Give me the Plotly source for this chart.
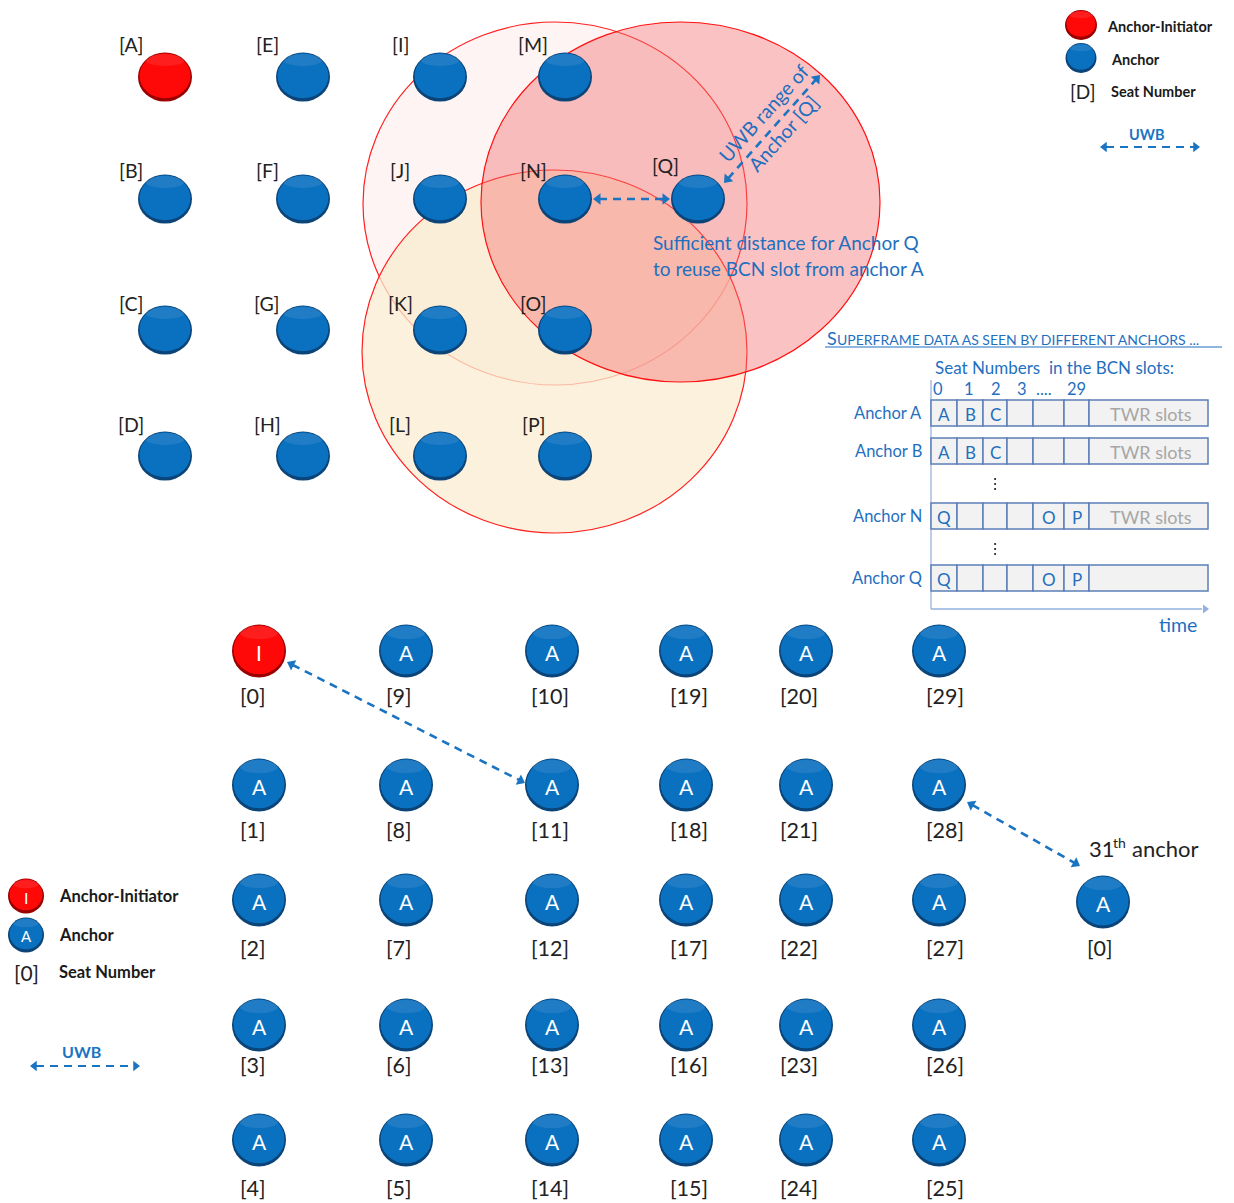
import math
import plotly.graph_objects as go

# ---------------- data ----------------
TOP_COLUMNS = [["A", "B", "C", "D"], ["E", "F", "G", "H"], ["I", "J", "K", "L"], ["M", "N", "O", "P"]]
TOP_EXTRA = ["Q"]          # extra anchor, right of N
TOP_INITIATOR = "A"

BOTTOM_COLUMNS = [[0, 1, 2, 3, 4], [9, 8, 7, 6, 5], [10, 11, 12, 13, 14],
                  [19, 18, 17, 16, 15], [20, 21, 22, 23, 24], [29, 28, 27, 26, 25]]
BOTTOM_INITIATOR = 0
EXTRA_ANCHOR_SEAT = 0

SF_ANCHORS = ["Anchor A", "Anchor B", "Anchor N", "Anchor Q"]
SF_SLOTS = [["A", "B", "C", "", "", ""],
            ["A", "B", "C", "", "", ""],
            ["Q", "", "", "", "O", "P"],
            ["Q", "", "", "", "O", "P"]]
SF_TWR = ["TWR slots", "TWR slots", "TWR slots", ""]
SF_HEADER = ["0", "1", "2", "3", "....", "29"]

# ---------------- layout geometry ----------------
W, H = 1234, 1203
TOP_X = [165, 303, 440, 565, 698]
TOP_Y = [77, 199, 330, 456]
TOP_LABEL_X = [131, 267, 400, 533, 665]
TOP_LABEL_Y = [44, 170, 303, 424]
TOP_RX, TOP_RY = 27, 24.5

BOT_X = [259, 406, 552, 686, 806, 939]
BOT_Y = [651, 785, 900, 1025, 1140]
BOT_LABEL_X = [253, 399, 550, 689, 799, 945]
BOT_LABEL_Y = [696, 830, 948, 1065, 1188]
BOT_R = 27
EXTRA_POS = (1103, 902)
EXTRA_LABEL = (1100, 948)

SF_X = [931, 957, 983, 1007, 1033, 1064, 1089, 1208]
SF_ROW_TOP = [400, 438, 503, 565]
SF_ROW_H = 26
SF_HEADER_X = [938, 969, 996, 1022, 1044, 1076]

FONT = "Lato"
BLUE_TXT = "#1F6FBF"
ARROW_BLUE = "#1B74C2"
NODE_BLUE, NODE_BLUE_DARK = "#0A71C0", "#0B4478"
NODE_RED, NODE_RED_DARK = "#FF0808", "#9A0000"

shapes = []
annotations = []
heads_x, heads_y, heads_ang, heads_col, heads_size = [], [], [], [], []


def text(x, y, s, size=18, color="#222222", bold=False, xanchor="center", angle=0, family=FONT):
    if bold:
        s = "<b>" + s + "</b>"
    annotations.append(dict(x=x, y=y, xref="x", yref="y", text=s, showarrow=False,
                            xanchor=xanchor, yanchor="middle", textangle=angle,
                            font=dict(family=family, size=size, color=color)))


def ellipse(x0, y0, x1, y1, fill, line_color=None, width=0, layer="above", opacity=1.0):
    shapes.append(dict(type="circle", xref="x", yref="y", x0=x0, y0=y0, x1=x1, y1=y1,
                       fillcolor=fill, opacity=opacity, layer=layer,
                       line=dict(color=line_color or fill, width=width)))


def node(cx, cy, rx, ry, red=False):
    main = NODE_RED if red else NODE_BLUE
    dark = NODE_RED_DARK if red else NODE_BLUE_DARK
    ellipse(cx - rx, cy - ry, cx + rx, cy + ry, dark)
    ellipse(cx - rx + 1.5, cy - ry + 0.8, cx + rx - 1.5, cy + ry - 3.2, main)
    ellipse(cx - rx * 0.72, cy - ry + 1.5, cx + rx * 0.72, cy - ry * 0.45, "white", opacity=0.09)


def head(tx, ty, dx, dy, color, size=10):
    # triangle-up marker: tip lies size/2 from its centre
    r = size / 2.0
    heads_x.append(tx - dx * r)
    heads_y.append(ty - dy * r)
    heads_ang.append(math.degrees(math.atan2(dx, -dy)))
    heads_col.append(color)
    heads_size.append(size)


def dashed_arrow(x0, y0, x1, y1, both=True, color=ARROW_BLUE, width=2.6, size=10):
    L = math.hypot(x1 - x0, y1 - y0)
    ux, uy = (x1 - x0) / L, (y1 - y0) / L
    hl = 6
    sx, sy = (x0 + ux * hl, y0 + uy * hl) if both else (x0, y0)
    ex, ey = x1 - ux * hl, y1 - uy * hl
    shapes.append(dict(type="line", xref="x", yref="y", x0=sx, y0=sy, x1=ex, y1=ey,
                       line=dict(color=color, width=width, dash="8px,6px")))
    head(x1, y1, ux, uy, color, size)
    if both:
        head(x0, y0, -ux, -uy, color, size)


# ---------------- range circles ----------------
ellipse(363, 22, 747, 385, "rgba(252,230,230,0.45)", "#FF2020", 1.2, layer="below")
ellipse(362, 170, 747, 533, "rgba(249,236,208,0.75)", "#FF2020", 1.2, layer="below")
ellipse(481, 22, 880, 382, "rgba(244,110,110,0.42)", "#FF1010", 1.2, layer="below")

# ---------------- top grid ----------------
for ci, col in enumerate(TOP_COLUMNS):
    for ri, seat in enumerate(col):
        cx, cy = TOP_X[ci], TOP_Y[ri]
        node(cx, cy, TOP_RX, TOP_RY, red=(seat == TOP_INITIATOR))
        text(TOP_LABEL_X[ci], TOP_LABEL_Y[ri], "[" + seat + "]", size=19.5)
for seat in TOP_EXTRA:
    cx, cy = TOP_X[4], TOP_Y[1]
    node(cx, cy, TOP_RX, TOP_RY)
    text(TOP_LABEL_X[4], 165, "[" + seat + "]", size=19.5)

# N <-> Q arrow
dashed_arrow(TOP_X[3] + TOP_RX + 1, TOP_Y[1], TOP_X[4] - TOP_RX - 1, TOP_Y[1])
# UWB range of anchor Q
dashed_arrow(724, 183, 820, 75)
text(763, 113, "UWB range of", size=19.5, color=BLUE_TXT, angle=-48)
text(783, 133, "Anchor [Q]", size=19.5, color=BLUE_TXT, angle=-48)
text(651, 242, "Sufficient distance for Anchor Q", size=19, color=BLUE_TXT, xanchor="left")
text(651, 268, "to reuse BCN slot from anchor A", size=19, color=BLUE_TXT, xanchor="left")

# ---------------- top-right legend ----------------
node(1081, 25, 16, 15, red=True)
node(1081, 58, 15.5, 15)
text(1105, 26, "Anchor-Initiator", size=14.5, bold=True, xanchor="left", color="#1a1a1a")
text(1109, 59, "Anchor", size=14.5, bold=True, xanchor="left", color="#1a1a1a")
text(1083, 91, "[D]", size=19)
text(1109, 91, "Seat Number", size=14.5, bold=True, xanchor="left", color="#1a1a1a")
text(1147, 134, "UWB", size=14.5, bold=True, color=ARROW_BLUE)
dashed_arrow(1100, 147, 1200, 147, width=2.2, size=9)

# ---------------- superframe table ----------------
text(825, 338, "S", size=18, color=BLUE_TXT, xanchor="left")
text(835, 339.5, "UPERFRAME DATA AS SEEN BY DIFFERENT ANCHORS ...", size=14, color=BLUE_TXT,
     xanchor="left")
shapes.append(dict(type="line", xref="x", yref="y", x0=825, x1=1222, y0=347, y1=347,
                   line=dict(color=BLUE_TXT, width=1)))
text(933, 367, "Seat Numbers  in the BCN slots:", size=17, color=BLUE_TXT, xanchor="left")
for hx, h in zip(SF_HEADER_X, SF_HEADER):
    text(hx, 389, h, size=16.5, color=BLUE_TXT)

# axis lines
shapes.append(dict(type="line", xref="x", yref="y", x0=931, x1=931, y0=380, y1=609,
                   line=dict(color="#A9BEDF", width=1.5)))
shapes.append(dict(type="line", xref="x", yref="y", x0=931, x1=1202, y0=609, y1=609,
                   line=dict(color="#8FB0E0", width=1.5)))
head(1209, 609, 1, 0, "#8FB0E0", 8)
text(1178, 624, "time", size=19.5, color=BLUE_TXT)

for ri, (name, slots, twr) in enumerate(zip(SF_ANCHORS, SF_SLOTS, SF_TWR)):
    y0 = SF_ROW_TOP[ri]
    y1 = y0 + SF_ROW_H
    yc = (y0 + y1) / 2
    text(924, yc, name, size=16.5, color=BLUE_TXT, xanchor="right")
    for k in range(len(SF_X) - 1):
        shapes.append(dict(type="rect", xref="x", yref="y", x0=SF_X[k], x1=SF_X[k + 1], y0=y0, y1=y1,
                           fillcolor="#F2F2F2", line=dict(color="#5B7FB8", width=1.5)))
    for k, s in enumerate(slots):
        if s:
            text((SF_X[k] + SF_X[k + 1]) / 2, yc + 1, s, size=17, color=BLUE_TXT)
    if twr:
        text((SF_X[6] + SF_X[7]) / 2 + 2, yc + 1, twr, size=18, color="#A6A6A6")

for dy in (484, 549):
    for d in (-5, 0, 5):
        ellipse(994, dy + d - 1.1, 996.2, dy + d + 1.1, "#222222")

# ---------------- bottom grid ----------------
for ci, col in enumerate(BOTTOM_COLUMNS):
    for ri, seat in enumerate(col):
        cx, cy = BOT_X[ci], BOT_Y[ri]
        is_init = seat == BOTTOM_INITIATOR
        node(cx, cy, BOT_R, BOT_R - 0.5, red=is_init)
        text(cx, cy + 1, "I" if is_init else "A", size=21, color="white")
        text(BOT_LABEL_X[ci], BOT_LABEL_Y[ri], "[" + str(seat) + "]", size=21.5)

node(EXTRA_POS[0], EXTRA_POS[1], BOT_R, BOT_R - 0.5)
text(EXTRA_POS[0], EXTRA_POS[1] + 1, "A", size=21, color="white")
text(EXTRA_LABEL[0], EXTRA_LABEL[1], "[" + str(EXTRA_ANCHOR_SEAT) + "]", size=21.5)
text(1087, 848, "31", size=22, xanchor="left")
text(1111, 842, "th", size=14, xanchor="left")
text(1130, 848, "anchor", size=22, xanchor="left")

dashed_arrow(287, 662, 525, 783)
dashed_arrow(967, 802, 1080, 866)

# ---------------- bottom-left legend ----------------
node(26, 896, 18, 17.5, red=True)
text(26, 897, "I", size=16, color="white")
node(26, 935, 18, 17.5)
text(26, 936, "A", size=15, color="white")
text(26, 972, "[0]", size=21)
text(57, 896, "Anchor-Initiator", size=16.5, bold=True, xanchor="left", color="#1a1a1a")
text(57, 935, "Anchor", size=16.5, bold=True, xanchor="left", color="#1a1a1a")
text(57, 972, "Seat Number", size=16.5, bold=True, xanchor="left", color="#1a1a1a")
text(81, 1051, "UWB", size=16, bold=True, color=ARROW_BLUE)
dashed_arrow(30, 1066, 140, 1066, width=2.2, size=9)

fig = go.Figure()
fig.add_trace(go.Scatter(x=heads_x, y=heads_y, mode="markers", hoverinfo="skip", showlegend=False,
                         marker=dict(symbol="triangle-up", size=heads_size, angle=heads_ang,
                                     color=heads_col, line=dict(width=0), opacity=1)))
fig.update_layout(
    width=W, height=H, margin=dict(l=0, r=0, t=0, b=0),
    paper_bgcolor="white", plot_bgcolor="white",
    xaxis=dict(range=[0, W], visible=False, fixedrange=True),
    yaxis=dict(range=[H, 0], visible=False, fixedrange=True),
    shapes=shapes, annotations=annotations, showlegend=False,
)
fig.write_html("out.html", config={"displayModeBar": False},
               post_script="document.body.style.margin='0';document.body.style.overflow='hidden';")
